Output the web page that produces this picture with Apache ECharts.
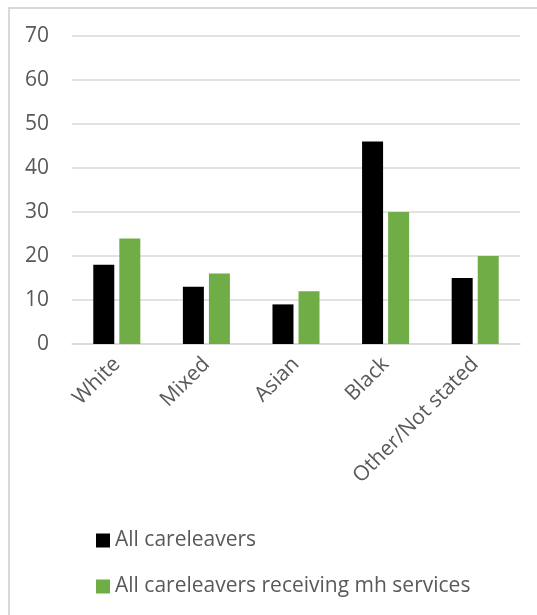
<!DOCTYPE html>
<html>
<head>
<meta charset="utf-8">
<script src="https://cdn.jsdelivr.net/npm/echarts@6/dist/echarts.min.js"></script>
<style>
html,body{margin:0;padding:0;background:#fff;}
#c{width:537px;height:615px;}
</style>
</head>
<body>
<div id="c"></div>
<script>
var categories = ['White', 'Mixed', 'Asian', 'Black', 'Other/Not stated'];
var seriesNames = ['All careleavers', 'All careleavers receiving mh services'];
var allCareleavers = [18, 13, 9, 46, 15];
var mhServices = [24, 16, 12, 30, 20];
var yTicks = [0, 10, 20, 30, 40, 50, 60, 70];

var FONT = '"Open Sans", sans-serif';
var TXT = '#595959';
var chart = echarts.init(document.getElementById('c'), null, {renderer: 'canvas'});
chart.setOption({
  animation: false,
  backgroundColor: '#ffffff',
  graphic: [{
    type: 'polyline',
    shape: {points: [[9, 700], [9, 8], [700, 8]]},
    style: {stroke: '#d9d9d9', lineWidth: 2, fill: null},
    silent: true
  }],
  grid: {left: 72, right: 17, top: 36, bottom: 271, containLabel: false},
  legend: {
    orient: 'vertical',
    left: 96,
    top: 530,
    padding: 0,
    itemWidth: 14,
    itemHeight: 14,
    itemGap: 25,
    icon: 'rect',
    textStyle: {fontFamily: FONT, fontSize: 21, lineHeight: 21, color: TXT},
    data: seriesNames
  },
  xAxis: {
    type: 'category',
    data: categories,
    axisLine: {show: true, lineStyle: {color: '#d9d9d9', width: 1.5}},
    axisTick: {show: false},
    axisLabel: {rotate: 45, margin: 17, fontFamily: FONT, fontSize: 21, color: TXT, interval: 0}
  },
  yAxis: {
    type: 'value',
    min: yTicks[0],
    max: yTicks[yTicks.length - 1],
    interval: 10,
    axisLine: {show: false},
    axisTick: {show: false},
    splitLine: {lineStyle: {color: '#d9d9d9', width: 1.5}},
    axisLabel: {margin: 23, fontFamily: FONT, fontSize: 21, color: TXT}
  },
  series: [{
    name: seriesNames[0],
    type: 'bar',
    data: allCareleavers,
    barWidth: 21,
    barGap: '24%',
    itemStyle: {color: '#000000'}
  }, {
    name: seriesNames[1],
    type: 'bar',
    data: mhServices,
    barWidth: 21,
    itemStyle: {color: '#70ad47'}
  }]
});
</script>
</body>
</html>
